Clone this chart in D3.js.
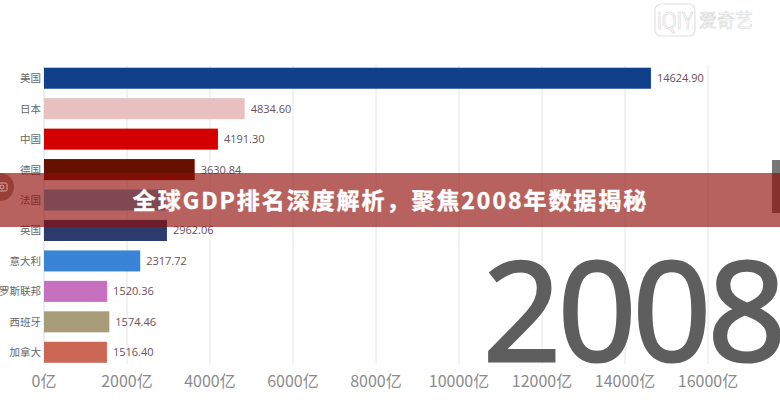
<!DOCTYPE html>
<html><head><meta charset="utf-8">
<script src="https://cdnjs.cloudflare.com/ajax/libs/d3/7.8.5/d3.min.js"></script>
<style>html,body{margin:0;padding:0;background:#fff;overflow:hidden}svg{display:block}text{font-family:"Noto Sans CJK SC","Noto Sans",sans-serif}</style>
</head><body><svg id="c" width="780" height="400"></svg>
<script>
const countries=["美国","日本","中国","德国","法国","英国","意大利","罗斯联邦","西班牙","加拿大"];
const gdp=[14624.90,4834.60,4191.30,3630.84,2920,2962.06,2317.72,1520.36,1574.46,1516.40];
const valueLabels=["14624.90","4834.60","4191.30","3630.84","","2962.06","2317.72","1520.36","1574.46","1516.40"];
const barColors=["#10408c","#e8c0c0","#d40000","#661100","#61b4dc","#2c3a6c","#3a84d8","#c870c0","#a89c78","#cc6655"];
const xTicks=[0,2000,4000,6000,8000,10000,12000,14000,16000];
const yearLabel="2008";
const title="全球GDP排名深度解析\uFF0C聚焦2008年数据揭秘";
const watermark="爱奇艺";

const svg=d3.select("#c");
const x=d3.scaleLinear().domain([0,16000]).range([44,708]);
const y=d3.scaleBand().domain(countries).range([63,367.5]).paddingInner(0.31).paddingOuter(0.155);

svg.append("g").selectAll("line").data(xTicks).join("line")
 .attr("x1",d=>x(d)).attr("x2",d=>x(d)).attr("y1",66).attr("y2",364)
 .attr("stroke",(d,i)=>i?"#e4e4e4":"#d4dde8").attr("stroke-width",1);

svg.append("text").attr("x",483).attr("y",361)
 .attr("font-size",137).attr("fill","#5e5e5e").attr("stroke","#5e5e5e").attr("stroke-width",3.2)
 .attr("letter-spacing",-3.4)
 .style("font-family",'"Open Sans",sans-serif').text(yearLabel);

svg.append("g").selectAll("rect").data(gdp).join("rect")
 .attr("x",x(0)).attr("y",(d,i)=>y(countries[i])).attr("width",d=>x(d)-x(0)).attr("height",y.bandwidth())
 .attr("fill",(d,i)=>barColors[i]);

svg.append("g").selectAll("text").data(countries).join("text")
 .attr("x",41).attr("y",d=>y(d)+y.bandwidth()/2+4).attr("text-anchor","end")
 .attr("font-size",10.5).attr("fill","#666").text(d=>d);

svg.append("g").selectAll("text").data(gdp).join("text")
 .attr("x",d=>x(d)+6).attr("y",(d,i)=>y(countries[i])+y.bandwidth()/2+4)
 .attr("font-size",11).attr("fill","#6b4f5a").style("font-family",'"Open Sans",sans-serif')
 .text((d,i)=>valueLabels[i]);

svg.append("g").selectAll("text").data(xTicks).join("text")
 .attr("x",d=>x(d)).attr("y",387).attr("text-anchor","middle")
 .attr("font-size",16).attr("fill","#8c8c8c").text(d=>d+"亿");

// watermark
const wm=svg.append("g");
wm.append("rect").attr("x",655).attr("y",4).attr("width",40).attr("height",32).attr("rx",6).attr("fill","none").attr("stroke","#e2e2e2").attr("stroke-width",1.2);
wm.append("text").attr("x",675).attr("y",29).attr("text-anchor","middle").attr("font-size",23).attr("fill","none").attr("stroke","#d6d6d6").attr("stroke-width",.7).attr("textLength",36).attr("lengthAdjust","spacingAndGlyphs").style("font-family",'"Open Sans",sans-serif').text("iQIY");
wm.append("text").attr("x",699).attr("y",27).attr("font-size",18).attr("fill","#fff").attr("stroke","#d6d6d6").attr("stroke-width",.6).text(watermark);

// right edge tab, overlay banner, left camera button
svg.append("rect").attr("x",772).attr("y",160).attr("width",8).attr("height",53).attr("fill","#777");
svg.append("rect").attr("x",0).attr("y",173).attr("width",780).attr("height",54).attr("fill","rgb(145,14,8)").attr("fill-opacity",.65);
svg.append("circle").attr("cx",0).attr("cy",187).attr("r",14).attr("fill","#8c3028").attr("fill-opacity",.7);
svg.append("rect").attr("x",-3).attr("y",183).attr("width",10).attr("height",8).attr("rx",1.5).attr("fill","none").attr("stroke","#d9a9a4").attr("stroke-width",1);
svg.append("circle").attr("cx",2).attr("cy",187).attr("r",2).attr("fill","none").attr("stroke","#d9a9a4").attr("stroke-width",1);
svg.append("text").attr("x",390.5).attr("y",209).attr("text-anchor","middle").attr("font-size",23).attr("font-weight",700).attr("letter-spacing",1.95).attr("fill","#fff").attr("stroke","#fff").attr("stroke-width",.4).text(title);
</script></body></html>
